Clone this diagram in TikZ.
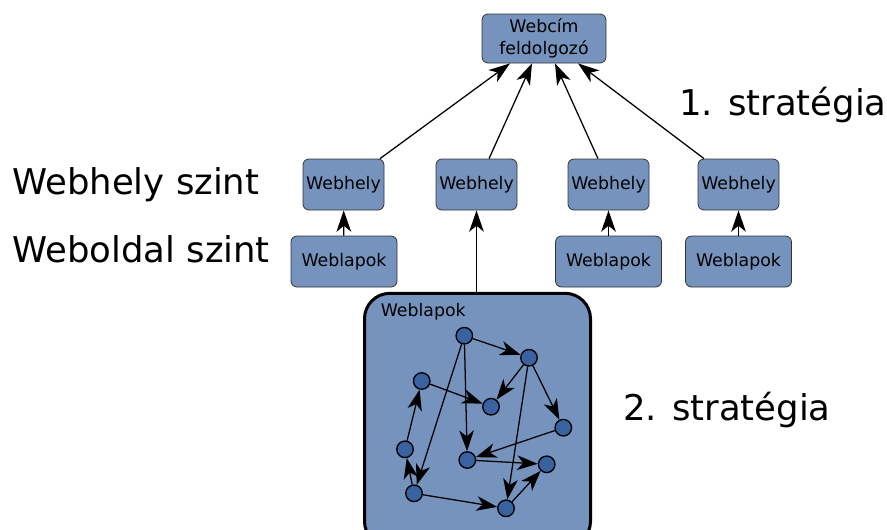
\documentclass[tikz,border=0pt]{standalone}
\usepackage{fontspec}
\setmainfont{DejaVu Sans}
\usetikzlibrary{arrows.meta,calc}
\definecolor{boxblue}{RGB}{118,147,190}
\definecolor{dotblue}{RGB}{56,98,160}
\begin{document}
\begin{tikzpicture}[x=0.75pt,y=-0.75pt,
  small/.style={font=\fontsize{13}{16.5}\selectfont},
  big/.style={font=\fontsize{26.6}{30}\selectfont, inner sep=0pt},
  box/.style={small, draw=black!80, line width=0.6pt, fill=boxblue, rounded corners=4.5pt,
    inner sep=0pt, minimum height=38.25pt, align=center},
  siteb/.style={box, minimum width=60.75pt},
  pageb/.style={box, minimum width=79.5pt},
  dot/.style={circle, draw=black, line width=1pt, fill=dotblue, minimum size=12.4pt, inner sep=0pt},
  arr/.style={line width=0.95pt, -{Stealth[length=16pt,width=11pt,inset=4.5pt]}},
  garr/.style={line width=0.95pt, -{Stealth[length=15.5pt,width=11pt,inset=4.5pt]}}
]
\useasboundingbox (0,0) rectangle (887,529);

% top node
\node[box, minimum width=93pt, minimum height=36.75pt] (top) at (544,38.5) {Webcím\\feldolgozó};

% Webhely
\node[siteb] (w1) at (343.5,184.5) {Webhely};
\node[siteb] (w2) at (476.5,184.5) {Webhely};
\node[siteb] (w3) at (608.5,184.5) {Webhely};
\node[siteb] (w4) at (738.5,184.5) {Webhely};

% Weblapok
\node[pageb] (p1) at (344,261.5) {Weblapok};
\node[pageb] (p3) at (608.5,261.5) {Weblapok};
\node[pageb] (p4) at (738.5,261.5) {Weblapok};

% big box
\node[draw=black, line width=2.25pt, fill=boxblue, rounded corners=19pt,
  minimum width=169.5pt, minimum height=190pt, inner sep=0pt] (bigb) at (477.5,420) {};
\node[small, anchor=base west, inner sep=0pt] (bl) at (380.5,316.7) {Weblapok};

% labels
\node[big, anchor=base west] (l1) at (679,115.7) {1. stratégia};
\node[big, anchor=base west] (l2) at (12,194) {Webhely szint};
\node[big, anchor=base west] (l3) at (12,262.3) {Weboldal szint};
\node[big, anchor=base west] (l4) at (623,420.3) {2. stratégia};

% arrows to top
\draw[arr] ([xshift=27.4pt]w1.north) -- ([xshift=-25.5pt]top.south);
\draw[arr] ([xshift=9.4pt]w2.north) -- ([xshift=-9pt]top.south);
\draw[arr] ([xshift=-7.9pt]w3.north) -- ([xshift=8.25pt]top.south);
\draw[arr] ([xshift=-25.9pt]w4.north) -- ([xshift=25.5pt]top.south);

% Weblapok -> Webhely
\draw[arr] (p1) -- (w1);
\draw[arr] (p3) -- (w3);
\draw[arr] (p4) -- (w4);
\draw[arr] (bigb.north -| w2.south) -- (w2.south);

% graph
\node[dot] (A) at (464.3,335.7) {};
\node[dot] (B) at (529,357.7) {};
\node[dot] (C) at (421.7,381) {};
\node[dot] (D) at (491,406.7) {};
\node[dot] (E) at (563.3,427.7) {};
\node[dot] (F) at (405,449.3) {};
\node[dot] (G) at (467.3,460) {};
\node[dot] (H) at (546.7,464.3) {};
\node[dot] (I) at (414,493.3) {};
\node[dot] (J) at (506,508.3) {};

\draw[garr] (A) -- (B);
\draw[garr] (A) -- (G);
\draw[garr] (A) -- (I);
\draw[garr] (B) -- (D);
\draw[garr] (B) -- (E);
\draw[garr] (B) -- (J);
\draw[garr] (C) -- (D);
\draw[garr] (F) -- (C);
\draw[garr] (I) -- (F);
\draw[garr] (E) -- (G);
\draw[garr] (G) -- (H);
\draw[garr] (I) -- (J);
\draw[garr] (J) -- (H);
\end{tikzpicture}
\end{document}
